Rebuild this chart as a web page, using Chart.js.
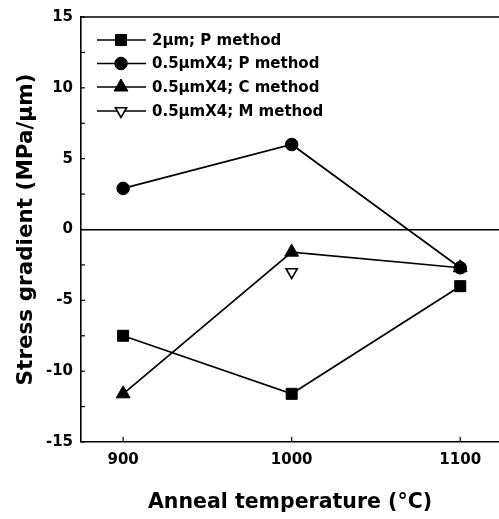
<!DOCTYPE html>
<html>
<head>
<meta charset="utf-8">
<script src="https://cdn.jsdelivr.net/npm/chart.js@4.4.1/dist/chart.umd.min.js"></script>
<style>
  html, body { margin: 0; padding: 0; background: #fff; overflow: hidden; }
  #wrap { position: relative; width: 499px; height: 519px; }
</style>
</head>
<body>
<div id="wrap"><canvas id="c" width="499" height="519"></canvas></div>
<script>
// ---- data ----
const temps = [900, 1000, 1100];
const seriesLabels = ["2\u00b5m; P method", "0.5\u00b5mX4; P method", "0.5\u00b5mX4; C method", "0.5\u00b5mX4; M method"];
const p2um = [-7.5, -11.6, -4.0];
const p05 = [2.9, 6.0, -2.7];
const c05 = [-11.6, -1.6, -2.7];
const m05 = [null, -3.0, null];
const yTicks = [-15, -10, -5, 0, 5, 10, 15];

const FONT = "'DejaVu Sans', 'Liberation Sans', Arial, sans-serif";

function pts(arr) {
  return temps.map((t, i) => ({ x: t, y: arr[i] })).filter(p => p.y !== null);
}

const styles = [
  { pointStyle: 'rect', radius: 7.8, fill: true, rotation: 0 },
  { pointStyle: 'circle', radius: 6.3, fill: true, rotation: 0 },
  { pointStyle: 'triangle', radius: 8, fill: true, rotation: 0 },
  { pointStyle: 'triangle', radius: 6.5, fill: false, rotation: 180 }
];
const dataArrays = [p2um, p05, c05, m05];

const datasets = dataArrays.map((arr, i) => ({
  label: seriesLabels[i],
  data: pts(arr),
  borderColor: '#000',
  backgroundColor: styles[i].fill ? '#000' : '#fff',
  pointBorderColor: '#000',
  pointBackgroundColor: styles[i].fill ? '#000' : '#fff',
  pointStyle: styles[i].pointStyle,
  pointRadius: styles[i].radius,
  pointHoverRadius: styles[i].radius,
  pointRotation: styles[i].rotation,
  pointBorderWidth: styles[i].fill ? 1 : 1.6,
  borderWidth: 1.7,
  showLine: true,
  tension: 0
}));

const framePlugin = {
  id: 'frame',
  afterDraw(chart) {
    const ctx = chart.ctx;
    const a = chart.chartArea;
    const xs = chart.scales.x, ys = chart.scales.y;
    ctx.save();
    ctx.strokeStyle = '#000';
    // top border
    ctx.lineWidth = 1.6;
    ctx.beginPath();
    ctx.moveTo(a.left, a.top);
    ctx.lineTo(chart.width, a.top);
    ctx.stroke();
    // inside ticks on y axis
    ctx.lineWidth = 1.2;
    for (let v = -15; v <= 15; v += 2.5) {
      const y = ys.getPixelForValue(v);
      ctx.beginPath();
      ctx.moveTo(a.left, y);
      ctx.lineTo(a.left + 4, y);
      ctx.stroke();
    }
    // inside ticks on x axis
    temps.forEach(t => {
      const x = xs.getPixelForValue(t);
      ctx.beginPath();
      ctx.moveTo(x, a.bottom);
      ctx.lineTo(x, a.bottom - 5);
      ctx.stroke();
    });
    // legend
    const lx0 = 97, lx1 = 146, mx = 121, tx = 152;
    const rowsY = [40, 63.5, 87, 111];
    ctx.font = "bold 15px " + FONT;
    ctx.textBaseline = 'middle';
    ctx.fillStyle = '#000';
    chart.data.datasets.forEach((ds, i) => {
      const y = rowsY[i];
      ctx.lineWidth = 1.6;
      ctx.strokeStyle = '#000';
      ctx.beginPath();
      ctx.moveTo(lx0, y);
      ctx.lineTo(lx1, y);
      ctx.stroke();
      ctx.fillStyle = ds.pointBackgroundColor;
      ctx.strokeStyle = '#000';
      ctx.lineWidth = ds.pointBorderWidth;
      Chart.helpers.drawPoint(ctx, {
        pointStyle: ds.pointStyle,
        rotation: ds.pointRotation,
        radius: ds.pointRadius,
        borderWidth: ds.pointBorderWidth
      }, mx, y);
      ctx.fillStyle = '#000';
      ctx.fillText(ds.label, tx, y + 1);
    });
    ctx.restore();
  }
};

new Chart(document.getElementById('c'), {
  type: 'scatter',
  data: { datasets },
  options: {
    responsive: false,
    animation: false,
    events: [],
    layout: { autoPadding: false, padding: { top: 15, right: 0, left: 0, bottom: 0 } },
    plugins: { legend: { display: false }, tooltip: { enabled: false } },
    scales: {
      x: {
        type: 'linear',
        min: 875,
        max: 1123,
        afterFit(s) { s.height = 77; s.paddingRight = 0; s.paddingLeft = 0; },
        afterBuildTicks(s) { s.ticks = temps.map(v => ({ value: v })); },
        border: { color: '#000', width: 1.6 },
        grid: { display: false, drawTicks: false },
        ticks: {
          color: '#000',
          padding: 9,
          maxRotation: 0,
          font: { family: FONT, size: 15, weight: 'bold' },
          callback: v => String(v)
        },
        title: {
          display: true,
          text: 'Anneal temperature (\u00b0C)',
          color: '#000',
          font: { family: FONT, size: 20.5, weight: 'bold' },
          padding: { top: 0, bottom: 4 }
        }
      },
      y: {
        type: 'linear',
        min: -15,
        max: 15,
        afterFit(s) { s.width = 81; },
        afterBuildTicks(s) { s.ticks = yTicks.map(v => ({ value: v })); },
        border: { color: '#000', width: 1.6 },
        grid: {
          drawTicks: false,
          color: ctx => (ctx.tick && ctx.tick.value === 0) ? '#000' : 'rgba(0,0,0,0)',
          lineWidth: ctx => (ctx.tick && ctx.tick.value === 0) ? 1.6 : 0
        },
        ticks: {
          color: '#000',
          padding: 8,
          font: { family: FONT, size: 15, weight: 'bold' },
          callback: v => String(v)
        },
        title: {
          display: true,
          text: 'Stress gradient (MPa/\u00b5m)',
          color: '#000',
          font: { family: FONT, size: 21.5, weight: 'bold' },
          padding: { top: 14, bottom: 0 }
        }
      }
    }
  },
  plugins: [framePlugin]
});
</script>
</body>
</html>
